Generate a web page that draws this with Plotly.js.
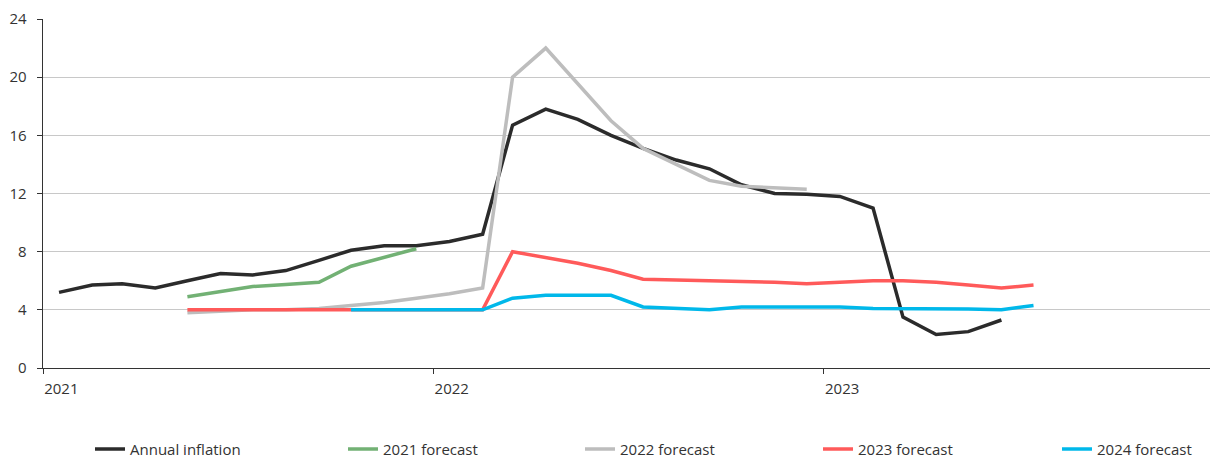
<!DOCTYPE html>
<html>
<head>
<meta charset="utf-8">
<script src="https://cdn.plot.ly/plotly-3.0.1.min.js"></script>
<style>html,body{margin:0;padding:0;background:#fff;}#chart{width:1210px;height:459px;}</style>
</head>
<body>
<div id="chart"></div>
<script>
// Months from Jan 2021 to Jul 2023 (points plotted mid-month)
const months = ["2021-01","2021-02","2021-03","2021-04","2021-05","2021-06","2021-07","2021-08","2021-09","2021-10","2021-11","2021-12",
                "2022-01","2022-02","2022-03","2022-04","2022-05","2022-06","2022-07","2022-08","2022-09","2022-10","2022-11","2022-12",
                "2023-01","2023-02","2023-03","2023-04","2023-05","2023-06","2023-07"];

const annualInflation = [5.2,5.7,5.8,5.5,6.0,6.5,6.4,6.7,7.4,8.1,8.4,8.4,8.7,9.2,16.7,17.8,17.1,16.0,15.1,14.3,13.7,12.6,12.0,11.95,11.8,11.0,3.5,2.3,2.5,3.3];
const forecast2021 = [null,null,null,null,4.9,5.25,5.6,5.75,5.9,7.0,7.6,8.2];
const forecast2022 = [null,null,null,null,3.8,3.9,4.0,4.0,4.1,4.3,4.5,4.8,5.1,5.5,20.0,22.0,19.5,17.0,15.1,14.0,12.9,12.5,12.4,12.3];
const forecast2023 = [null,null,null,null,4.0,4.0,4.0,4.0,4.0,4.0,4.0,4.0,4.0,4.0,8.0,7.6,7.2,6.7,6.1,6.05,6.0,6.0,5.9,5.8,5.9,6.0,6.0,5.9,5.7,5.5,5.7];
const forecast2024 = [null,null,null,null,null,null,null,null,null,4.0,4.0,4.0,4.0,4.0,4.8,5.0,5.0,5.0,4.2,4.1,4.0,4.2,4.2,4.2,4.2,4.1,4.1,4.1,4.05,4.0,4.3];

const seriesNames = ["Annual inflation","2021 forecast","2022 forecast","2023 forecast","2024 forecast"];
const yTicks = [0,4,8,12,16,20,24];
const xTickVals = ["2021-01-01","2022-01-01","2023-01-01"];
const xTickText = ["2021","2022","2023"];

const xDates = months.map(m => m + "-16");
const colors = ["#2b2b2b","#72b174","#bdbdbd","#ff5a5a","#00b8ea"];
const legendTextPx = [130, 383, 620, 858, 1097];
const plotLeft = 43, plotWidth = 1167;

const allVals = [annualInflation, forecast2021, forecast2022, forecast2023, forecast2024];
const legendIds = ["legend","legend2","legend3","legend4","legend5"];

const data = allVals.map((vals, k) => ({
  type: "scatter", mode: "lines", name: seriesNames[k],
  x: xDates.slice(0, vals.length), y: vals,
  line: {color: colors[k], width: 3.5},
  legend: legendIds[k],
  connectgaps: false, hoverinfo: "skip"
}));

const layout = {
  width: 1210, height: 459,
  margin: {l: 43, r: 0, t: 19, b: 91, pad: 0, autoexpand: false},
  paper_bgcolor: "#ffffff", plot_bgcolor: "#ffffff",
  font: {family: "Open Sans, Noto Sans, sans-serif", size: 15, color: "#333333"},
  showlegend: true,
  xaxis: {
    type: "date",
    range: ["2021-01-01", "2023-12-28"],
    tickvals: xTickVals, ticktext: xTickText,
    ticks: "outside", ticklen: 5, tickwidth: 1, tickcolor: "#333333",
    ticklabelposition: "outside right",
    ticklabelstandoff: 7,
    showgrid: false, zeroline: false,
    showline: true, linecolor: "#333333", linewidth: 1.3,
    tickfont: {size: 15, color: "#333333"}, fixedrange: true
  },
  yaxis: {
    range: [0, 24],
    tickvals: yTicks,
    ticks: "outside", ticklen: 5, tickwidth: 1, tickcolor: "#333333",
    ticklabelstandoff: 7,
    showgrid: true, gridcolor: "#c8c8c8", gridwidth: 1,
    zeroline: false,
    showline: true, linecolor: "#333333", linewidth: 1.3,
    tickfont: {size: 15, color: "#333333"}, fixedrange: true
  }
};

legendIds.forEach((id, k) => {
  layout[id] = {
    orientation: "h",
    x: (legendTextPx[k] - 40 - plotLeft) / plotWidth, xanchor: "left",
    y: -0.233, yanchor: "middle",
    font: {size: 15, color: "#333333"}, bgcolor: "rgba(0,0,0,0)"
  };
});

Plotly.newPlot("chart", data, layout, {displayModeBar: false, staticPlot: true});
</script>
</body>
</html>
